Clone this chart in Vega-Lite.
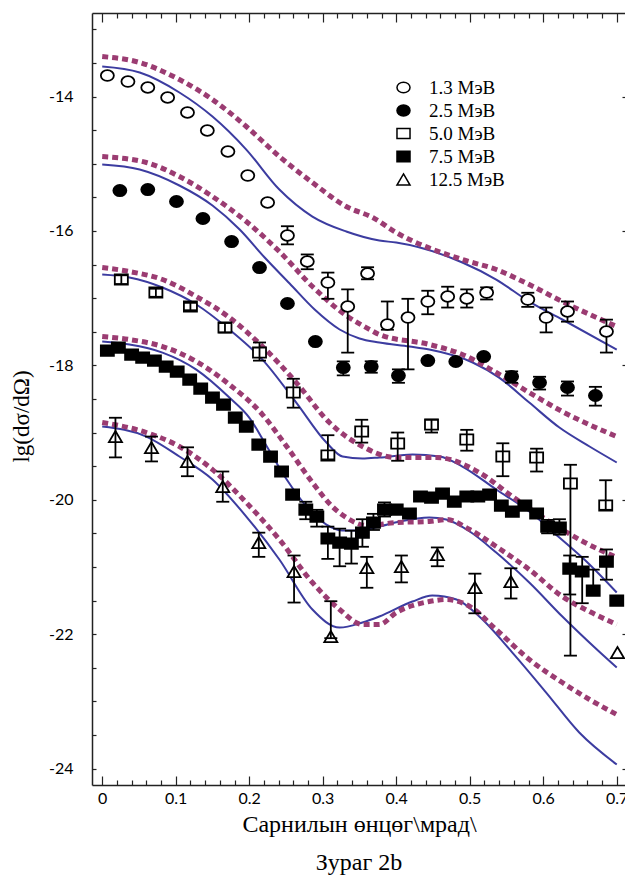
{
"$schema":"https://vega.github.io/schema/vega-lite/v6.json",
"width":534,"height":772,
"autosize":{"type":"none"},
"padding":{"left":92,"top":13,"right":0,"bottom":92},
"background":"white",
"config":{"view":{"stroke":null},"axis":{"grid":false,"domainColor":"#222","domainWidth":1.5,"tickColor":"#222","tickWidth":1.2,"labelFont":"Lato","labelFontSize":16,"labelColor":"black","titleFont":"Liberation Serif","titleFontSize":23,"titleFontWeight":"normal","titleColor":"black"}},
"title":{"text":"Зураг 2b","orient":"bottom","anchor":"middle","font":"Liberation Serif","fontSize":24,"fontWeight":"normal","color":"black","offset":15},
"datasets":{
"curves":[
{"c":1,"t":"b","x":0,"y":-13.554},{"c":1,"t":"b","x":0.051,"y":-13.643},{"c":1,"t":"b","x":0.105,"y":-13.94},{"c":1,"t":"b","x":0.15,"y":-14.298},{"c":1,"t":"b","x":0.196,"y":-14.789},{"c":1,"t":"b","x":0.241,"y":-15.384},{"c":1,"t":"b","x":0.286,"y":-15.786},{"c":1,"t":"b","x":0.332,"y":-16.009},{"c":1,"t":"b","x":0.377,"y":-16.143},{"c":1,"t":"b","x":0.4,"y":-16.173},{"c":1,"t":"b","x":0.49,"y":-16.47},{"c":1,"t":"b","x":0.536,"y":-16.723},{"c":1,"t":"b","x":0.581,"y":-17.051},{"c":1,"t":"b","x":0.626,"y":-17.318},{"c":1,"t":"b","x":0.7,"y":-17.765},
{"c":1,"t":"d","x":0,"y":-13.405},{"c":1,"t":"d","x":0.051,"y":-13.494},{"c":1,"t":"d","x":0.105,"y":-13.747},{"c":1,"t":"d","x":0.15,"y":-14.045},{"c":1,"t":"d","x":0.196,"y":-14.446},{"c":1,"t":"d","x":0.241,"y":-14.893},{"c":1,"t":"d","x":0.286,"y":-15.28},{"c":1,"t":"d","x":0.332,"y":-15.637},{"c":1,"t":"d","x":0.368,"y":-15.801},{"c":1,"t":"d","x":0.4,"y":-16.024},{"c":1,"t":"d","x":0.49,"y":-16.426},{"c":1,"t":"d","x":0.536,"y":-16.574},{"c":1,"t":"d","x":0.581,"y":-16.798},{"c":1,"t":"d","x":0.626,"y":-17.051},{"c":1,"t":"d","x":0.7,"y":-17.423},
{"c":2,"t":"b","x":0,"y":-15.012},{"c":2,"t":"b","x":0.051,"y":-15.086},{"c":2,"t":"b","x":0.105,"y":-15.324},{"c":2,"t":"b","x":0.15,"y":-15.622},{"c":2,"t":"b","x":0.187,"y":-15.979},{"c":2,"t":"b","x":0.221,"y":-16.396},{"c":2,"t":"b","x":0.255,"y":-16.783},{"c":2,"t":"b","x":0.289,"y":-17.17},{"c":2,"t":"b","x":0.323,"y":-17.467},{"c":2,"t":"b","x":0.35,"y":-17.601},{"c":2,"t":"b","x":0.377,"y":-17.661},{"c":2,"t":"b","x":0.418,"y":-17.72},{"c":2,"t":"b","x":0.445,"y":-17.765},{"c":2,"t":"b","x":0.504,"y":-17.958},{"c":2,"t":"b","x":0.54,"y":-18.182},{"c":2,"t":"b","x":0.581,"y":-18.554},{"c":2,"t":"b","x":0.622,"y":-18.926},{"c":2,"t":"b","x":0.663,"y":-19.208},{"c":2,"t":"b","x":0.7,"y":-19.446},
{"c":2,"t":"d","x":0,"y":-14.893},{"c":2,"t":"d","x":0.06,"y":-14.982},{"c":2,"t":"d","x":0.105,"y":-15.19},{"c":2,"t":"d","x":0.15,"y":-15.488},{"c":2,"t":"d","x":0.196,"y":-15.86},{"c":2,"t":"d","x":0.241,"y":-16.307},{"c":2,"t":"d","x":0.286,"y":-16.827},{"c":2,"t":"d","x":0.332,"y":-17.259},{"c":2,"t":"d","x":0.364,"y":-17.467},{"c":2,"t":"d","x":0.377,"y":-17.542},{"c":2,"t":"d","x":0.445,"y":-17.69},{"c":2,"t":"d","x":0.49,"y":-17.839},{"c":2,"t":"d","x":0.536,"y":-18.107},{"c":2,"t":"d","x":0.581,"y":-18.405},{"c":2,"t":"d","x":0.626,"y":-18.688},{"c":2,"t":"d","x":0.7,"y":-19.06},
{"c":3,"t":"b","x":0,"y":-16.649},{"c":3,"t":"b","x":0.037,"y":-16.693},{"c":3,"t":"b","x":0.082,"y":-16.842},{"c":3,"t":"b","x":0.128,"y":-17.095},{"c":3,"t":"b","x":0.173,"y":-17.467},{"c":3,"t":"b","x":0.218,"y":-17.914},{"c":3,"t":"b","x":0.264,"y":-18.554},{"c":3,"t":"b","x":0.305,"y":-19.149},{"c":3,"t":"b","x":0.327,"y":-19.357},{"c":3,"t":"b","x":0.354,"y":-19.387},{"c":3,"t":"b","x":0.377,"y":-19.372},{"c":3,"t":"b","x":0.422,"y":-19.327},{"c":3,"t":"b","x":0.459,"y":-19.357},{"c":3,"t":"b","x":0.49,"y":-19.506},{"c":3,"t":"b","x":0.536,"y":-19.848},{"c":3,"t":"b","x":0.581,"y":-20.176},{"c":3,"t":"b","x":0.622,"y":-20.563},{"c":3,"t":"b","x":0.663,"y":-20.964},{"c":3,"t":"b","x":0.7,"y":-21.381},
{"c":3,"t":"d","x":0,"y":-16.545},{"c":3,"t":"d","x":0.037,"y":-16.604},{"c":3,"t":"d","x":0.082,"y":-16.723},{"c":3,"t":"d","x":0.128,"y":-16.976},{"c":3,"t":"d","x":0.173,"y":-17.289},{"c":3,"t":"d","x":0.218,"y":-17.72},{"c":3,"t":"d","x":0.264,"y":-18.256},{"c":3,"t":"d","x":0.309,"y":-18.851},{"c":3,"t":"d","x":0.354,"y":-19.208},{"c":3,"t":"d","x":0.4,"y":-19.372},{"c":3,"t":"d","x":0.455,"y":-19.372},{"c":3,"t":"d","x":0.513,"y":-19.595},{"c":3,"t":"d","x":0.558,"y":-19.952},{"c":3,"t":"d","x":0.604,"y":-20.295},{"c":3,"t":"d","x":0.649,"y":-20.592},{"c":3,"t":"d","x":0.7,"y":-20.86},
{"c":4,"t":"b","x":0,"y":-17.646},{"c":4,"t":"b","x":0.037,"y":-17.69},{"c":4,"t":"b","x":0.082,"y":-17.81},{"c":4,"t":"b","x":0.128,"y":-18.063},{"c":4,"t":"b","x":0.173,"y":-18.479},{"c":4,"t":"b","x":0.2,"y":-18.777},{"c":4,"t":"b","x":0.224,"y":-19.208},{"c":4,"t":"b","x":0.251,"y":-19.699},{"c":4,"t":"b","x":0.278,"y":-20.101},{"c":4,"t":"b","x":0.305,"y":-20.369},{"c":4,"t":"b","x":0.327,"y":-20.458},{"c":4,"t":"b","x":0.35,"y":-20.458},{"c":4,"t":"b","x":0.377,"y":-20.399},{"c":4,"t":"b","x":0.405,"y":-20.324},{"c":4,"t":"b","x":0.445,"y":-20.265},{"c":4,"t":"b","x":0.468,"y":-20.295},{"c":4,"t":"b","x":0.5,"y":-20.473},{"c":4,"t":"b","x":0.536,"y":-20.786},{"c":4,"t":"b","x":0.581,"y":-21.232},{"c":4,"t":"b","x":0.626,"y":-21.738},{"c":4,"t":"b","x":0.673,"y":-22.229},{"c":4,"t":"b","x":0.7,"y":-22.497},
{"c":4,"t":"d","x":0,"y":-17.571},{"c":4,"t":"d","x":0.037,"y":-17.616},{"c":4,"t":"d","x":0.082,"y":-17.72},{"c":4,"t":"d","x":0.128,"y":-17.943},{"c":4,"t":"d","x":0.173,"y":-18.286},{"c":4,"t":"d","x":0.218,"y":-18.732},{"c":4,"t":"d","x":0.251,"y":-19.208},{"c":4,"t":"d","x":0.286,"y":-19.744},{"c":4,"t":"d","x":0.313,"y":-20.101},{"c":4,"t":"d","x":0.332,"y":-20.265},{"c":4,"t":"d","x":0.36,"y":-20.384},{"c":4,"t":"d","x":0.4,"y":-20.339},{"c":4,"t":"d","x":0.445,"y":-20.324},{"c":4,"t":"d","x":0.468,"y":-20.295},{"c":4,"t":"d","x":0.5,"y":-20.443},{"c":4,"t":"d","x":0.536,"y":-20.696},{"c":4,"t":"d","x":0.581,"y":-21.039},{"c":4,"t":"d","x":0.626,"y":-21.44},{"c":4,"t":"d","x":0.663,"y":-21.664},{"c":4,"t":"d","x":0.7,"y":-21.857},
{"c":5,"t":"b","x":0,"y":-18.911},{"c":5,"t":"b","x":0.06,"y":-19.06},{"c":5,"t":"b","x":0.105,"y":-19.357},{"c":5,"t":"b","x":0.15,"y":-19.699},{"c":5,"t":"b","x":0.196,"y":-20.25},{"c":5,"t":"b","x":0.241,"y":-20.89},{"c":5,"t":"b","x":0.286,"y":-21.634},{"c":5,"t":"b","x":0.323,"y":-21.902},{"c":5,"t":"b","x":0.354,"y":-21.827},{"c":5,"t":"b","x":0.377,"y":-21.738},{"c":5,"t":"b","x":0.422,"y":-21.515},{"c":5,"t":"b","x":0.449,"y":-21.426},{"c":5,"t":"b","x":0.482,"y":-21.485},{"c":5,"t":"b","x":0.513,"y":-21.738},{"c":5,"t":"b","x":0.558,"y":-22.274},{"c":5,"t":"b","x":0.604,"y":-22.869},{"c":5,"t":"b","x":0.649,"y":-23.464},{"c":5,"t":"b","x":0.7,"y":-23.94},
{"c":5,"t":"d","x":0,"y":-18.851},{"c":5,"t":"d","x":0.06,"y":-19.0},{"c":5,"t":"d","x":0.105,"y":-19.208},{"c":5,"t":"d","x":0.15,"y":-19.551},{"c":5,"t":"d","x":0.196,"y":-20.042},{"c":5,"t":"d","x":0.241,"y":-20.592},{"c":5,"t":"d","x":0.286,"y":-21.232},{"c":5,"t":"d","x":0.323,"y":-21.634},{"c":5,"t":"d","x":0.354,"y":-21.857},{"c":5,"t":"d","x":0.377,"y":-21.857},{"c":5,"t":"d","x":0.4,"y":-21.679},{"c":5,"t":"d","x":0.445,"y":-21.515},{"c":5,"t":"d","x":0.468,"y":-21.485},{"c":5,"t":"d","x":0.5,"y":-21.589},{"c":5,"t":"d","x":0.536,"y":-21.932},{"c":5,"t":"d","x":0.581,"y":-22.378},{"c":5,"t":"d","x":0.626,"y":-22.72},{"c":5,"t":"d","x":0.663,"y":-22.973},{"c":5,"t":"d","x":0.7,"y":-23.196}
],
"pts":[
{"s":"1.3 МэВ","x":0.007,"y":-13.688},{"s":"1.3 МэВ","x":0.035,"y":-13.777},{"s":"1.3 МэВ","x":0.062,"y":-13.866},{"s":"1.3 МэВ","x":0.089,"y":-14.015},{"s":"1.3 МэВ","x":0.116,"y":-14.238},{"s":"1.3 МэВ","x":0.143,"y":-14.506},{"s":"1.3 МэВ","x":0.171,"y":-14.818},{"s":"1.3 МэВ","x":0.198,"y":-15.176},{"s":"1.3 МэВ","x":0.225,"y":-15.577},{"s":"1.3 МэВ","x":0.252,"y":-16.068},{"s":"1.3 МэВ","x":0.279,"y":-16.455},{"s":"1.3 МэВ","x":0.307,"y":-16.768},{"s":"1.3 МэВ","x":0.334,"y":-17.125},{"s":"1.3 МэВ","x":0.361,"y":-16.634},{"s":"1.3 МэВ","x":0.388,"y":-17.393},{"s":"1.3 МэВ","x":0.416,"y":-17.289},{"s":"1.3 МэВ","x":0.443,"y":-17.051},{"s":"1.3 МэВ","x":0.47,"y":-16.976},{"s":"1.3 МэВ","x":0.496,"y":-17.006},{"s":"1.3 МэВ","x":0.523,"y":-16.917},{"s":"1.3 МэВ","x":0.579,"y":-17.021},{"s":"1.3 МэВ","x":0.604,"y":-17.289},{"s":"1.3 МэВ","x":0.633,"y":-17.199},{"s":"1.3 МэВ","x":0.686,"y":-17.497},
{"s":"2.5 МэВ","x":0.024,"y":-15.399},{"s":"2.5 МэВ","x":0.062,"y":-15.384},{"s":"2.5 МэВ","x":0.101,"y":-15.562},{"s":"2.5 МэВ","x":0.137,"y":-15.815},{"s":"2.5 МэВ","x":0.176,"y":-16.158},{"s":"2.5 МэВ","x":0.214,"y":-16.545},{"s":"2.5 МэВ","x":0.252,"y":-17.08},{"s":"2.5 МэВ","x":0.29,"y":-17.646},{"s":"2.5 МэВ","x":0.328,"y":-18.033},{"s":"2.5 МэВ","x":0.366,"y":-18.018},{"s":"2.5 МэВ","x":0.403,"y":-18.152},{"s":"2.5 МэВ","x":0.443,"y":-17.929},{"s":"2.5 МэВ","x":0.481,"y":-17.943},{"s":"2.5 МэВ","x":0.519,"y":-17.869},{"s":"2.5 МэВ","x":0.557,"y":-18.167},{"s":"2.5 МэВ","x":0.595,"y":-18.256},{"s":"2.5 МэВ","x":0.633,"y":-18.33},{"s":"2.5 МэВ","x":0.671,"y":-18.449},
{"s":"5.0 МэВ","x":0.026,"y":-16.723},{"s":"5.0 МэВ","x":0.073,"y":-16.917},{"s":"5.0 МэВ","x":0.12,"y":-17.125},{"s":"5.0 МэВ","x":0.167,"y":-17.438},{"s":"5.0 МэВ","x":0.214,"y":-17.81},{"s":"5.0 МэВ","x":0.26,"y":-18.405},{"s":"5.0 МэВ","x":0.307,"y":-19.342},{"s":"5.0 МэВ","x":0.353,"y":-18.985},{"s":"5.0 МэВ","x":0.402,"y":-19.164},{"s":"5.0 МэВ","x":0.448,"y":-18.881},{"s":"5.0 МэВ","x":0.496,"y":-19.104},{"s":"5.0 МэВ","x":0.545,"y":-19.357},{"s":"5.0 МэВ","x":0.591,"y":-19.372},{"s":"5.0 МэВ","x":0.637,"y":-19.759},{"s":"5.0 МэВ","x":0.685,"y":-20.086},
{"s":"7.5 МэВ","x":0.007,"y":-17.78},{"s":"7.5 МэВ","x":0.022,"y":-17.735},{"s":"7.5 МэВ","x":0.04,"y":-17.839},{"s":"7.5 МэВ","x":0.055,"y":-17.884},{"s":"7.5 МэВ","x":0.071,"y":-17.929},{"s":"7.5 МэВ","x":0.087,"y":-18.018},{"s":"7.5 МэВ","x":0.102,"y":-18.092},{"s":"7.5 МэВ","x":0.119,"y":-18.211},{"s":"7.5 МэВ","x":0.134,"y":-18.345},{"s":"7.5 МэВ","x":0.15,"y":-18.479},{"s":"7.5 МэВ","x":0.165,"y":-18.583},{"s":"7.5 МэВ","x":0.181,"y":-18.777},{"s":"7.5 МэВ","x":0.196,"y":-18.911},{"s":"7.5 МэВ","x":0.213,"y":-19.179},{"s":"7.5 МэВ","x":0.229,"y":-19.357},{"s":"7.5 МэВ","x":0.244,"y":-19.58},{"s":"7.5 МэВ","x":0.259,"y":-19.923},{"s":"7.5 МэВ","x":0.277,"y":-20.146},{"s":"7.5 МэВ","x":0.292,"y":-20.25},{"s":"7.5 МэВ","x":0.307,"y":-20.577},{"s":"7.5 МэВ","x":0.323,"y":-20.637},{"s":"7.5 МэВ","x":0.339,"y":-20.652},{"s":"7.5 МэВ","x":0.354,"y":-20.488},{"s":"7.5 МэВ","x":0.369,"y":-20.339},{"s":"7.5 МэВ","x":0.384,"y":-20.146},{"s":"7.5 МэВ","x":0.4,"y":-20.146},{"s":"7.5 МэВ","x":0.418,"y":-20.205},{"s":"7.5 МэВ","x":0.433,"y":-19.952},{"s":"7.5 МэВ","x":0.448,"y":-19.967},{"s":"7.5 МэВ","x":0.463,"y":-19.908},{"s":"7.5 МэВ","x":0.479,"y":-20.027},{"s":"7.5 МэВ","x":0.496,"y":-19.952},{"s":"7.5 МэВ","x":0.511,"y":-19.952},{"s":"7.5 МэВ","x":0.527,"y":-19.923},{"s":"7.5 МэВ","x":0.543,"y":-20.086},{"s":"7.5 МэВ","x":0.558,"y":-20.176},{"s":"7.5 МэВ","x":0.575,"y":-20.086},{"s":"7.5 МэВ","x":0.591,"y":-20.205},{"s":"7.5 МэВ","x":0.606,"y":-20.399},{"s":"7.5 МэВ","x":0.622,"y":-20.414},{"s":"7.5 МэВ","x":0.636,"y":-21.024},{"s":"7.5 МэВ","x":0.653,"y":-21.068},{"s":"7.5 МэВ","x":0.668,"y":-21.351},{"s":"7.5 МэВ","x":0.686,"y":-20.92},{"s":"7.5 МэВ","x":0.7,"y":-21.5},
{"s":"12.5 МэВ","x":0.018,"y":-19.06},{"s":"12.5 МэВ","x":0.067,"y":-19.223},{"s":"12.5 МэВ","x":0.116,"y":-19.432},{"s":"12.5 МэВ","x":0.164,"y":-19.804},{"s":"12.5 МэВ","x":0.213,"y":-20.637},{"s":"12.5 МэВ","x":0.261,"y":-21.068},{"s":"12.5 МэВ","x":0.311,"y":-22.036},{"s":"12.5 МэВ","x":0.36,"y":-21.009},{"s":"12.5 МэВ","x":0.407,"y":-20.994},{"s":"12.5 МэВ","x":0.456,"y":-20.815},{"s":"12.5 МэВ","x":0.507,"y":-21.307},{"s":"12.5 МэВ","x":0.556,"y":-21.217},{"s":"12.5 МэВ","x":0.701,"y":-22.274}
],
"err":[
{"x":0.252,"lo":-16.2,"hi":-15.93},{"x":0.279,"lo":-16.57,"hi":-16.35},{"x":0.307,"lo":-17.01,"hi":-16.62},{"x":0.334,"lo":-17.81,"hi":-16.87},{"x":0.361,"lo":-16.72,"hi":-16.54},{"x":0.388,"lo":-17.47,"hi":-17.05},{"x":0.416,"lo":-18.06,"hi":-17.01},{"x":0.443,"lo":-17.24,"hi":-16.89},{"x":0.47,"lo":-17.14,"hi":-16.83},{"x":0.496,"lo":-17.14,"hi":-16.87},{"x":0.523,"lo":-17.02,"hi":-16.84},{"x":0.579,"lo":-17.13,"hi":-16.92},{"x":0.604,"lo":-17.51,"hi":-17.14},{"x":0.633,"lo":-17.35,"hi":-17.05},{"x":0.686,"lo":-17.81,"hi":-17.32},
{"x":0.328,"lo":-18.15,"hi":-17.94},{"x":0.366,"lo":-18.11,"hi":-17.94},{"x":0.403,"lo":-18.26,"hi":-18.06},{"x":0.557,"lo":-18.26,"hi":-18.09},{"x":0.595,"lo":-18.36,"hi":-18.17},{"x":0.633,"lo":-18.45,"hi":-18.24},{"x":0.671,"lo":-18.6,"hi":-18.32},
{"x":0.026,"lo":-16.79,"hi":-16.66},{"x":0.073,"lo":-16.98,"hi":-16.86},{"x":0.12,"lo":-17.18,"hi":-17.07},{"x":0.167,"lo":-17.51,"hi":-17.37},{"x":0.214,"lo":-17.93,"hi":-17.66},{"x":0.26,"lo":-18.63,"hi":-18.2},{"x":0.307,"lo":-19.4,"hi":-19.04},{"x":0.353,"lo":-19.15,"hi":-18.81},{"x":0.402,"lo":-19.42,"hi":-19.0},{"x":0.448,"lo":-19.0,"hi":-18.81},{"x":0.496,"lo":-19.27,"hi":-18.96},{"x":0.545,"lo":-19.65,"hi":-19.16},{"x":0.591,"lo":-19.58,"hi":-19.24},{"x":0.637,"lo":-22.32,"hi":-19.48},{"x":0.685,"lo":-20.15,"hi":-19.71},
{"x":0.277,"lo":-20.29,"hi":-20.03},{"x":0.292,"lo":-20.4,"hi":-20.15},{"x":0.307,"lo":-20.88,"hi":-20.4},{"x":0.323,"lo":-20.99,"hi":-20.43},{"x":0.339,"lo":-20.95,"hi":-20.46},{"x":0.354,"lo":-20.7,"hi":-20.29},{"x":0.369,"lo":-20.45,"hi":-20.21},{"x":0.384,"lo":-20.25,"hi":-20.04},{"x":0.606,"lo":-20.5,"hi":-20.3},{"x":0.622,"lo":-20.52,"hi":-20.29},{"x":0.636,"lo":-21.41,"hi":-20.83},{"x":0.653,"lo":-21.54,"hi":-20.85},{"x":0.668,"lo":-21.4,"hi":-21.04},{"x":0.686,"lo":-21.19,"hi":-20.74},
{"x":0.018,"lo":-19.37,"hi":-18.78},{"x":0.067,"lo":-19.43,"hi":-19.06},{"x":0.116,"lo":-19.65,"hi":-19.22},{"x":0.164,"lo":-20.03,"hi":-19.58},{"x":0.213,"lo":-20.85,"hi":-20.49},{"x":0.261,"lo":-21.53,"hi":-20.83},{"x":0.311,"lo":-22.06,"hi":-21.51},{"x":0.36,"lo":-21.31,"hi":-20.85},{"x":0.407,"lo":-21.23,"hi":-20.83},{"x":0.456,"lo":-20.99,"hi":-20.71},{"x":0.507,"lo":-21.69,"hi":-21.1},{"x":0.556,"lo":-21.47,"hi":-21.02}
]
},
"layer":[
{"data":{"name":"curves"},"transform":[{"filter":"datum.t=='b'"}],
"mark":{"type":"line","color":"#3c3ca0","strokeWidth":2,"interpolate":"monotone"},
"encoding":{
"x":{"field":"x","type":"quantitative","scale":{"domain":[-0.0139,0.7126],"nice":false,"zero":false},
"axis":{"orient":"bottom","values":[0,0.1,0.2,0.3,0.4,0.5,0.6,0.7],"labelExpr":"'' + datum.value","tickSize":-9,"labelPadding":14,"labelFlush":false,"labelOverlap":false,
"title":"Сарнилын өнцөг\\мрад\\","titlePadding":6,"titleFontSize":24}},
"y":{"field":"y","type":"quantitative","scale":{"domain":[-24.245,-12.757],"nice":false,"zero":false},
"axis":{"orient":"left","values":[-24,-23.5,-23,-22.5,-22,-21.5,-21,-20.5,-20,-19.5,-19,-18.5,-18,-17.5,-17,-16.5,-16,-15.5,-15,-14.5,-14,-13.5,-13],
"labelExpr":"datum.value % 2 == 0 ? '' + datum.value : ''","tickSize":-4,"labelPadding":23,"labelOverlap":false,"labelFlush":false,
"title":"lg(dσ/dΩ)","titlePadding":15,"titleY":403}},
"detail":{"field":"c"}}},
{"data":{"name":"curves"},"transform":[{"filter":"datum.t=='d'"}],
"mark":{"type":"line","color":"#9b3c72","strokeWidth":5,"strokeDash":[6,4],"interpolate":"monotone"},
"encoding":{
"x":{"field":"x","type":"quantitative","scale":{"domain":[-0.0139,0.7126],"nice":false,"zero":false},
"axis":{"orient":"bottom","values":[0.02,0.04,0.06,0.08,0.12,0.14,0.16,0.18,0.22,0.24,0.26,0.28,0.32,0.34,0.36,0.38,0.42,0.44,0.46,0.48,0.52,0.54,0.56,0.58,0.62,0.64,0.66,0.68],"labels":false,"domain":false,"title":null,"tickSize":-5}},
"y":{"field":"y","type":"quantitative","scale":{"domain":[-24.245,-12.757],"nice":false,"zero":false},
"axis":{"orient":"right","values":[-24,-22,-20,-18,-16,-14],"labels":false,"title":null,"tickSize":-4}},
"detail":{"field":"c"}}},
{"data":{"name":"pts"},"transform":[{"filter":"datum.s=='5.0 МэВ' || datum.s=='7.5 МэВ' || datum.s=='12.5 МэВ'"}],
"mark":{"type":"point","filled":false,"stroke":"black","strokeWidth":1.8,"size":170,"opacity":1},
"encoding":{"x":{"field":"x","type":"quantitative","scale":{"domain":[-0.0139,0.7126],"nice":false,"zero":false},"axis":null},"y":{"field":"y","type":"quantitative","scale":{"domain":[-24.245,-12.757],"nice":false,"zero":false},"axis":null},
"shape":{"field":"s","type":"nominal","scale":{"domain":["1.3 МэВ","2.5 МэВ","5.0 МэВ","7.5 МэВ","12.5 МэВ"],"range":["M-1,0A1,0.82,0,1,1,1,0A1,0.82,0,1,1,-1,0Z","M-1,0A1,0.85,0,1,1,1,0A1,0.85,0,1,1,-1,0Z","M-1,-0.78H1V0.78H-1Z","M-1,-0.8H1V0.8H-1Z","M0,-0.85L1,0.85L-1,0.85Z"]},
"legend":{"orient":"none","legendX":302,"legendY":65,"title":null,"padding":0,"labelFont":"Liberation Serif","labelFontSize":19,"labelColor":"black","labelOffset":16,"rowPadding":3,"symbolSize":170,"encode":{"symbols":{"update":{"stroke":{"value":"black"},"strokeWidth":{"value":1.8}}}}}},
"fill":{"field":"s","type":"nominal","scale":{"domain":["1.3 МэВ","2.5 МэВ","5.0 МэВ","7.5 МэВ","12.5 МэВ"],"range":["white","black","white","black","white"]},
"legend":{"orient":"none","legendX":302,"legendY":65,"title":null,"padding":0,"labelFont":"Liberation Serif","labelFontSize":19,"labelColor":"black","labelOffset":16,"rowPadding":3,"symbolSize":170,"encode":{"symbols":{"update":{"stroke":{"value":"black"},"strokeWidth":{"value":1.8}}}}}}}},
{"data":{"name":"err"},"mark":{"type":"rule","color":"black","strokeWidth":1.8},
"encoding":{"x":{"field":"x","type":"quantitative","scale":{"domain":[-0.0139,0.7126],"nice":false,"zero":false},"axis":null},"y":{"field":"lo","type":"quantitative","scale":{"domain":[-24.245,-12.757],"nice":false,"zero":false},"axis":null},"y2":{"field":"hi"}}},
{"data":{"name":"err"},"transform":[{"fold":["lo","hi"],"as":["k","v"]}],
"mark":{"type":"tick","orient":"horizontal","color":"black","size":13,"thickness":1.8,"opacity":1},
"encoding":{"x":{"field":"x","type":"quantitative","scale":{"domain":[-0.0139,0.7126],"nice":false,"zero":false},"axis":null},"y":{"field":"v","type":"quantitative","scale":{"domain":[-24.245,-12.757],"nice":false,"zero":false},"axis":null}}},
{"data":{"name":"pts"},"transform":[{"filter":"datum.s=='1.3 МэВ' || datum.s=='2.5 МэВ'"}],
"mark":{"type":"point","filled":false,"stroke":"black","strokeWidth":1.8,"size":170,"opacity":1},
"encoding":{"x":{"field":"x","type":"quantitative","scale":{"domain":[-0.0139,0.7126],"nice":false,"zero":false},"axis":null},"y":{"field":"y","type":"quantitative","scale":{"domain":[-24.245,-12.757],"nice":false,"zero":false},"axis":null},
"shape":{"field":"s","type":"nominal"},"fill":{"field":"s","type":"nominal"}}},
{"data":{"name":"curves"},"transform":[{"filter":"datum.t=='b'"}],"mark":{"type":"point","opacity":0},
"encoding":{
"x":{"field":"x","type":"quantitative","scale":{"domain":[-0.0139,0.7126],"nice":false,"zero":false},"axis":{"orient":"top","values":[0,0.1,0.2,0.3,0.4,0.5,0.6,0.7],"labels":false,"title":null,"tickSize":-9}},
"y":{"field":"y","type":"quantitative","scale":{"domain":[-24.245,-12.757],"nice":false,"zero":false},"axis":null}}},
{"data":{"name":"curves"},"transform":[{"filter":"datum.t=='d'"}],"mark":{"type":"point","opacity":0},
"encoding":{
"x":{"field":"x","type":"quantitative","scale":{"domain":[-0.0139,0.7126],"nice":false,"zero":false},"axis":{"orient":"top","values":[0.02,0.04,0.06,0.08,0.12,0.14,0.16,0.18,0.22,0.24,0.26,0.28,0.32,0.34,0.36,0.38,0.42,0.44,0.46,0.48,0.52,0.54,0.56,0.58,0.62,0.64,0.66,0.68],"labels":false,"domain":false,"title":null,"tickSize":-5}},
"y":{"field":"y","type":"quantitative","scale":{"domain":[-24.245,-12.757],"nice":false,"zero":false},"axis":null}}}
],
"resolve":{"axis":{"x":"independent","y":"independent"}}
}
